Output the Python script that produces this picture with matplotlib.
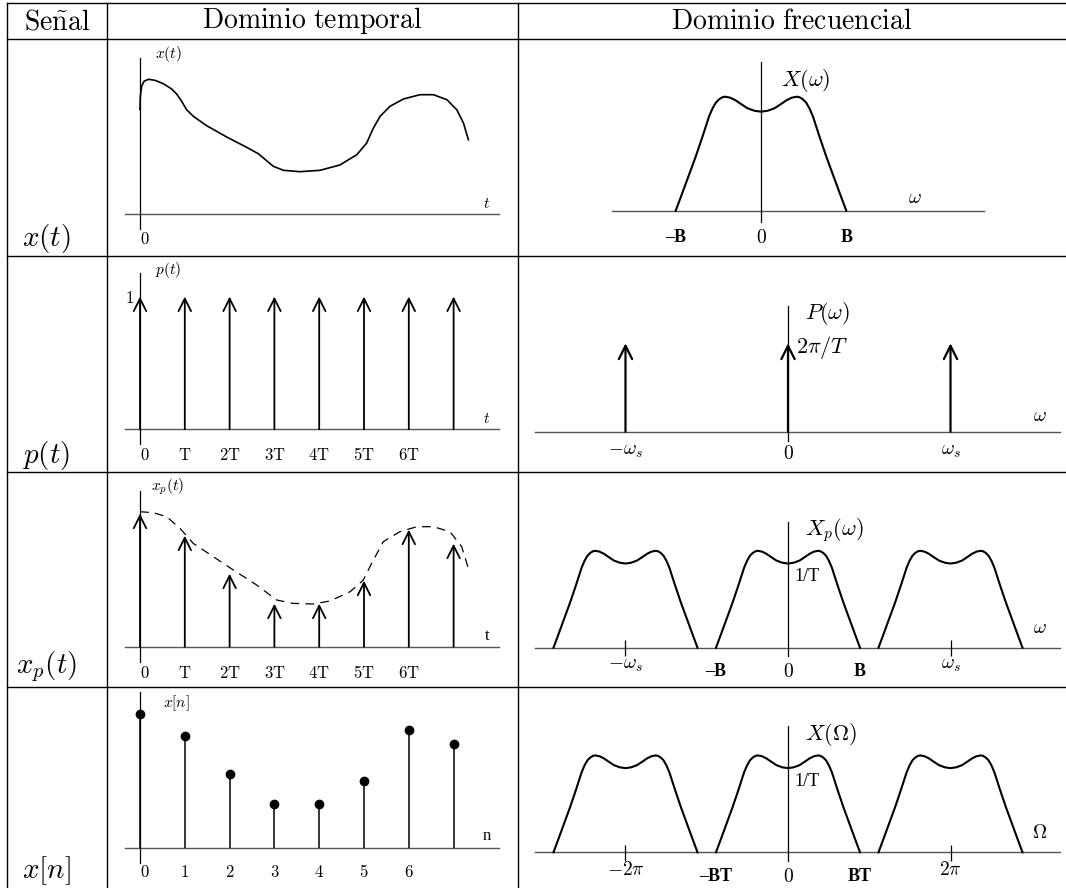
import matplotlib
matplotlib.use('Agg')
import matplotlib.pyplot as plt
import numpy as np
from matplotlib.transforms import blended_transform_factory

plt.rcParams['mathtext.fontset'] = 'cm'

W, H = 1066, 888

# x(t) (t in units of T, amplitude in arbitrary units)
xt_t = [0, 0.007, 0.037, 0.089, 0.186, 0.335, 0.52, 0.707, 0.818, 0.93, 1.04, 1.19, 1.488,
        1.935, 2.38, 2.64, 2.827, 2.976, 3.2, 3.57, 4.02, 4.46, 4.84, 5.06, 5.21, 5.36,
        5.58, 5.88, 6.25, 6.55, 6.85, 7.07, 7.22, 7.33]
xt_v = [1.043, 1.177, 1.277, 1.327, 1.347, 1.337, 1.303, 1.25, 1.2, 1.127, 1.043, 0.977, 0.883,
        0.77, 0.667, 0.603, 0.533, 0.477, 0.437, 0.423, 0.437, 0.49, 0.593, 0.71, 0.86, 0.977,
        1.077, 1.15, 1.193, 1.193, 1.143, 1.043, 0.91, 0.743]

# dashed envelope drawn over the sampled signal
env_t = [0, 0.3, 0.595, 0.893, 1.19, 1.637, 2.083, 2.604, 3.05, 3.42, 3.87, 4.24, 4.69,
         4.985, 5.17, 5.43, 5.80, 6.18, 6.55, 6.92, 7.18, 7.33]
env_v = [1.35, 1.34, 1.30, 1.183, 1.033, 0.9, 0.767, 0.617, 0.467, 0.433, 0.427, 0.457, 0.55,
         0.667, 0.833, 1.05, 1.15, 1.2, 1.2, 1.15, 1.0, 0.783]

# samples x[n] = x(nT)
n_idx = [0, 1, 2, 3, 4, 5, 6, 7]
samples = [1.34, 1.12, 0.74, 0.44, 0.44, 0.67, 1.18, 1.04]
time_ticks = ['0', 'T', '2T', '3T', '4T', '5T', '6T']
n_ticks = ['0', '1', '2', '3', '4', '5', '6']

# spectrum half shape, w in units of B
spec_w = [0, 0.08, 0.16, 0.24, 0.30, 0.36, 0.42, 0.45, 0.49, 0.53, 0.57, 0.61, 0.65,
          0.69, 0.77, 0.85, 0.93, 1.0]
spec_h = [0.99, 1.0, 1.025, 1.07, 1.105, 1.13, 1.14, 1.135, 1.115, 1.08, 1.02, 0.94, 0.835,
          0.73, 0.53, 0.345, 0.16, 0.0]
ws = 2.257          # sampling frequency in units of B
comb_h = 1.04       # height of the impulses of P(w)

row_y = [3, 39.5, 256, 472, 687, 888]
col_x = [7, 107, 518, 1066]

fig = plt.figure(figsize=(W / 100, H / 100), dpi=100)
base = fig.add_axes([0, 0, 1, 1])
base.set_xlim(0, W)
base.set_ylim(H, 0)
base.axis('off')

# table grid
for y in row_y[:-1]:
    base.plot([col_x[0], col_x[-1]], [y, y], color='black', lw=1.0)
for x in col_x[:-1]:
    base.plot([x, x], [row_y[0], row_y[-1]], color='black', lw=1.0)

base.text(57, 21, r'$\mathrm{Se\tilde{n}al}$', fontsize=20, ha='center', va='center')
base.text(312, 21, r'$\mathrm{Dominio\ temporal}$', fontsize=20, ha='center', va='center')
base.text(792, 21, r'$\mathrm{Dominio\ frecuencial}$', fontsize=20, ha='center', va='center')

row_labels = [r'$x(t)$', r'$p(t)$', r'$x_p(t)$', r'$x[n]$']
row_label_y = [238, 455, 667, 871]
for lab, y in zip(row_labels, row_label_y):
    base.text(46, y, lab, fontsize=21, ha='center', va='center')


def cell(x0, x1, y0, y1, ox, oy, sx, sy):
    ax = fig.add_axes([x0 / W, 1 - y1 / H, (x1 - x0) / W, (y1 - y0) / H])
    ax.set_xlim((x0 - ox) / sx, (x1 - ox) / sx)
    ax.set_ylim((oy - y1) / sy, (oy - y0) / sy)
    ax.axis('off')
    return ax


def arrow(ax, x, h, lw=1.3, ms=15):
    ax.annotate('', xy=(x, h), xytext=(x, 0),
                arrowprops=dict(arrowstyle='->,head_length=0.6,head_width=0.3', lw=lw,
                                color='black', shrinkA=0, shrinkB=0, mutation_scale=ms))


def time_axes(ax, tmin=-0.335, tmax=8.01):
    ax.plot([tmin, tmax], [0, 0], color='#555555', lw=1.0)
    ax.plot([0, 0], [-0.15, 1.56], color='black', lw=0.9)


TX, TS, AS = 140, 44.8, 100.0
rs = 0.85

# ---- time domain ----
ax1 = cell(107, 518, 39.5, 256, TX, 214, TS, AS)
time_axes(ax1)
ax1.plot(xt_t, xt_v, color='black', lw=1.2)
tr = blended_transform_factory(ax1.transData, base.transData)
base.text(168, 54, r'$x(t)$', fontsize=11, ha='center', va='center')
base.text(487, 203, r'$t$', fontsize=11, ha='center', va='center')
ax1.text(0.11, 239, r'$\mathrm{0}$', transform=tr, fontsize=12, ha='center', va='center')

ax2 = cell(107, 518, 256, 472, TX, 429.3, TS, AS)
time_axes(ax2)
for k in n_idx:
    arrow(ax2, k, 1.327)
tr = blended_transform_factory(ax2.transData, base.transData)
for k, lab in enumerate(time_ticks):
    ax2.text(k + (0.11 if k == 0 else 0), 455, r'$\mathrm{%s}$' % lab, transform=tr,
             fontsize=12, ha='center', va='center')
base.text(168, 270, r'$p(t)$', fontsize=11, ha='center', va='center')
base.text(487, 418, r'$t$', fontsize=11, ha='center', va='center')
base.text(134, 298, r'$\mathrm{1}$', fontsize=12, ha='right', va='center')

ax3 = cell(107, 518, 472, 687, TX, 646.7, TS, AS)
time_axes(ax3)
ax3.plot(env_t, env_v, color='black', lw=0.9, dashes=(7, 5))
for k, v in zip(n_idx, samples):
    arrow(ax3, k, v - 0.01)
tr = blended_transform_factory(ax3.transData, base.transData)
for k, lab in enumerate(time_ticks):
    ax3.text(k + (0.11 if k == 0 else 0), 673, r'$\mathrm{%s}$' % lab, transform=tr,
             fontsize=12, ha='center', va='center')
base.text(168, 487, r'$x_p(t)$', fontsize=11, ha='center', va='center')
base.text(487, 636, 't', fontsize=12, family='Liberation Serif', ha='center', va='center')

ax4 = cell(107, 518, 687, 888, TX, 847.7, TS, AS)
time_axes(ax4)
ax4.vlines(n_idx, 0, samples, color='black', lw=1.1)
ax4.plot(n_idx, samples, 'o', color='black', ms=6)
tr = blended_transform_factory(ax4.transData, base.transData)
for k, lab in enumerate(n_ticks):
    ax4.text(k + (0.11 if k == 0 else 0), 872, r'$\mathrm{%s}$' % lab, transform=tr,
             fontsize=12, ha='center', va='center')
base.text(176, 703, r'$x[n]$', fontsize=11, ha='center', va='center')
base.text(487, 836, 'n', fontsize=12, family='Liberation Serif', ha='center', va='center')

# ---- frequency domain ----
full_w = np.concatenate([-np.array(spec_w[::-1]), np.array(spec_w[1:])])
full_h = np.concatenate([np.array(spec_h[::-1]), np.array(spec_h[1:])])
bold = dict(family='Liberation Serif', weight='bold', fontsize=13, ha='center', va='center')

fx1 = cell(518, 1066, 39.5, 256, 761, 210.7, 85.3, AS)
fx1.plot([-1.745, 2.62], [0, 0], color='#555555', lw=1.0)
fx1.plot([0, 0], [-0.113, 1.487], color='black', lw=0.9)
fx1.plot(full_w, full_h, color='black', lw=1.5)
tr = blended_transform_factory(fx1.transData, base.transData)
fx1.text(-1, 237, '–B', transform=tr, **bold)
fx1.text(0, 237, r'$\mathrm{0}$', transform=tr, fontsize=14, ha='center', va='center')
fx1.text(1, 237, 'B', transform=tr, **bold)
base.text(781, 80, r'$X(\omega)$', fontsize=16, ha='left', va='center')
base.text(915, 197, r'$\omega$', fontsize=14, ha='center', va='center')

FX, FS = 788, 72.0
fx2 = cell(518, 1066, 256, 472, FX, 431.7, FS, AS * rs)
fx2.plot([-3.51, 3.78], [0, 0], color='#555555', lw=1.0)
fx2.plot([0, 0], [-0.106, 1.48], color='black', lw=0.9)
for c in [-ws, 0, ws]:
    arrow(fx2, c, comb_h, lw=1.6, ms=16)
tr = blended_transform_factory(fx2.transData, base.transData)
fx2.text(-ws, 450, r'$-\omega_s$', transform=tr, fontsize=14, ha='center', va='center')
fx2.text(0, 453, r'$\mathrm{0}$', transform=tr, fontsize=14, ha='center', va='center')
fx2.text(ws, 450, r'$\omega_s$', transform=tr, fontsize=14, ha='center', va='center')
base.text(805, 313, r'$P(\omega)$', fontsize=16, ha='left', va='center')
base.text(796, 347, r'$2\pi/T$', fontsize=16, ha='left', va='center')
base.text(1040, 415, r'$\omega$', fontsize=14, ha='center', va='center')

rep_rows = [(472, 687, 647.7, r'$X_p(\omega)$', r'$\omega$',
             [r'$-\omega_s$', '–B', r'$\mathrm{0}$', 'B', r'$\omega_s$']),
            (687, 888, 852.3, r'$X(\Omega)$', r'$\Omega$',
             [r'$-2\pi$', '–BT', r'$\mathrm{0}$', 'BT', r'$2\pi$'])]
for y0, y1, oy, title, wlab, labs in rep_rows:
    fx = cell(518, 1066, y0, y1, FX, oy, FS, AS * rs)
    fx.plot([-3.51, 3.78], [0, 0], color='#555555', lw=1.0)
    fx.plot([0, 0], [-0.1, 1.48], color='black', lw=0.9)
    for c in [-ws, 0, ws]:
        fx.plot(full_w + c, full_h, color='black', lw=1.5)
    fx.vlines([-ws, ws], -0.1, 0.09, color='black', lw=0.9)
    tr = blended_transform_factory(fx.transData, base.transData)
    fx.text(-ws, oy + 17, labs[0], transform=tr, fontsize=14, ha='center', va='center')
    fx.text(-1, oy + 24, labs[1], transform=tr, **bold)
    fx.text(0, oy + 24, labs[2], transform=tr, fontsize=14, ha='center', va='center')
    fx.text(1, oy + 24, labs[3], transform=tr, **bold)
    fx.text(ws, oy + 17, labs[4], transform=tr, fontsize=14, ha='center', va='center')
    base.text(805, oy - 118, title, fontsize=16, ha='left', va='center')
    base.text(794, oy - 71, '1/T', family='Liberation Serif', fontsize=13,
              ha='left', va='center')
    base.text(1040, oy - 20, wlab, fontsize=14, ha='center', va='center')

fig.savefig('out.png', dpi=100)
